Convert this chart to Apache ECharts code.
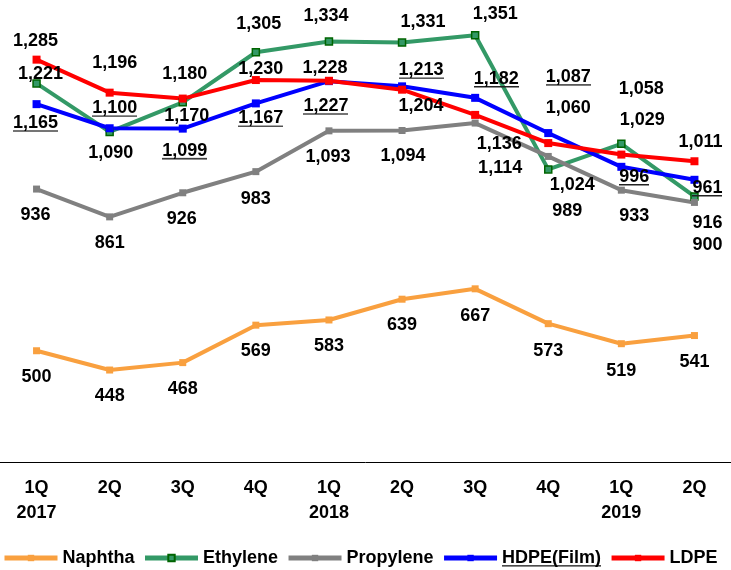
<!DOCTYPE html>
<html>
<head>
<meta charset="utf-8">
<script src="https://cdn.jsdelivr.net/npm/echarts@6/dist/echarts.min.js"></script>
<style>
  html, body { margin: 0; padding: 0; background: #fff; }
  #chart { width: 731px; height: 570px; }
</style>
</head>
<body>
<div id="chart"></div>
<script>
// categories (quarter / year)
var categories = ['1Q\n2017', '2Q', '3Q', '4Q', '1Q\n2018', '2Q', '3Q', '4Q', '1Q\n2019', '2Q'];

// series values
var naphtha   = [500, 448, 468, 569, 583, 639, 667, 573, 519, 541];
var ethylene  = [1221, 1090, 1170, 1305, 1334, 1331, 1351, 989, 1058, 916];
var propylene = [936, 861, 926, 983, 1093, 1094, 1114, 1024, 933, 900];
var hdpeFilm  = [1165, 1100, 1099, 1167, 1227, 1213, 1182, 1087, 996, 961];
var ldpe      = [1285, 1196, 1180, 1230, 1228, 1204, 1136, 1060, 1029, 1011];

// label placement (centre of label relative to the point, px)
var naphthaShift   = [[0,26],[0,26],[0,26],[0,26],[0,26],[0,26],[0,27],[0,27],[0,27],[0,26]];
var ethyleneShift  = [[4,-9],[1,21],[4,14],[3,-28],[-3,-25],[21,-21],[20,-21],[19,42],[20,-55],[13,27]];
var propyleneShift = [[-1,26],[0,26],[-1,26],[0,27],[-1,26],[1,26],[25,45],[24,29],[13,26],[13,43]];
var hdpeShift      = [[-1,19],[5,-20],[2,22],[5,15],[-3,25],[19,-16],[21,-19],[20,-56],[13,10],[13,8]];
var ldpeShift      = [[-1,-19],[5,-30],[2,-25],[5,-11],[-4,-13],[19,16],[24,29],[20,-35],[21,-35],[6,-19]];

var FONT = '"Liberation Sans", Arial, sans-serif';

// underline drawn as a tiny background image under rich text
function underlineImg() {
    var c = document.createElement('canvas');
    c.width = 4; c.height = 20;
    var ctx = c.getContext('2d');
    ctx.fillStyle = '#222';
    ctx.fillRect(0, 18, 4, 1.5);
    return c;
}
var uImg = underlineImg();

function fmt(v) {
    return v.toLocaleString('en-US');
}

function withShift(values, shifts) {
    return values.map(function (v, i) {
        return { value: v, label: { offset: shifts[i] } };
    });
}

function makeSeries(name, values, shifts, color, opts) {
    opts = opts || {};
    return {
        name: name,
        type: 'line',
        data: withShift(values, shifts),
        symbol: 'rect',
        symbolSize: opts.symbolSize || 7,
        itemStyle: {
            color: opts.fill || color,
            borderColor: opts.border || color,
            borderWidth: opts.border ? 1.5 : 0
        },
        lineStyle: { color: color, width: 4 },
        label: {
            show: true,
            position: 'inside',
            color: '#000',
            fontFamily: FONT,
            fontWeight: 'bold',
            fontSize: 18,
            lineHeight: 20,
            formatter: opts.underline
                ? function (p) { return '{u|' + fmt(p.value) + '}'; }
                : function (p) { return fmt(p.value); },
            rich: {
                u: {
                    color: '#000',
                    fontFamily: FONT,
                    fontWeight: 'bold',
                    fontSize: 18,
                    lineHeight: 20,
                    backgroundColor: { image: uImg }
                }
            }
        },
        emphasis: { disabled: true }
    };
}

var chart = echarts.init(document.getElementById('chart'));

var option = {
    animation: false,
    backgroundColor: '#fff',
    grid: { left: -2, right: -7, top: 17, bottom: 108 },
    legend: {
        top: 548,
        left: 2,
        padding: 0,
        itemWidth: 53,
        itemHeight: 8,
        itemGap: 8,
        lineStyle: { width: 5 },
        textStyle: {
            color: '#000',
            fontFamily: FONT,
            fontWeight: 'bold',
            fontSize: 18,
            lineHeight: 20,
            rich: {
                u: {
                    color: '#000',
                    fontFamily: FONT,
                    fontWeight: 'bold',
                    fontSize: 18,
                    lineHeight: 20,
                    backgroundColor: { image: uImg }
                }
            }
        },
        formatter: function (name) {
            return name === 'HDPE(Film)' ? '{u|' + name + '}' : name;
        },
        data: ['Naphtha', 'Ethylene', 'Propylene', 'HDPE(Film)', 'LDPE']
    },
    xAxis: {
        type: 'category',
        data: categories,
        boundaryGap: true,
        axisLine: { lineStyle: { color: '#000', width: 1 } },
        axisTick: { show: false },
        axisLabel: {
            color: '#000',
            fontFamily: FONT,
            fontWeight: 'bold',
            fontSize: 18,
            lineHeight: 25,
            margin: 14,
            interval: 0
        }
    },
    yAxis: {
        type: 'value',
        min: 200,
        max: 1400,
        show: false,
        splitLine: { show: false }
    },
    series: [
        makeSeries('Naphtha', naphtha, naphthaShift, '#F9A03F'),
        makeSeries('Ethylene', ethylene, ethyleneShift, '#339966', { border: '#006400', symbolSize: 7 }),
        makeSeries('Propylene', propylene, propyleneShift, '#808080'),
        makeSeries('HDPE(Film)', hdpeFilm, hdpeShift, '#0000FF', { underline: true, symbolSize: 8 }),
        makeSeries('LDPE', ldpe, ldpeShift, '#FF0000', { symbolSize: 8 })
    ]
};

chart.setOption(option);
</script>
</body>
</html>
